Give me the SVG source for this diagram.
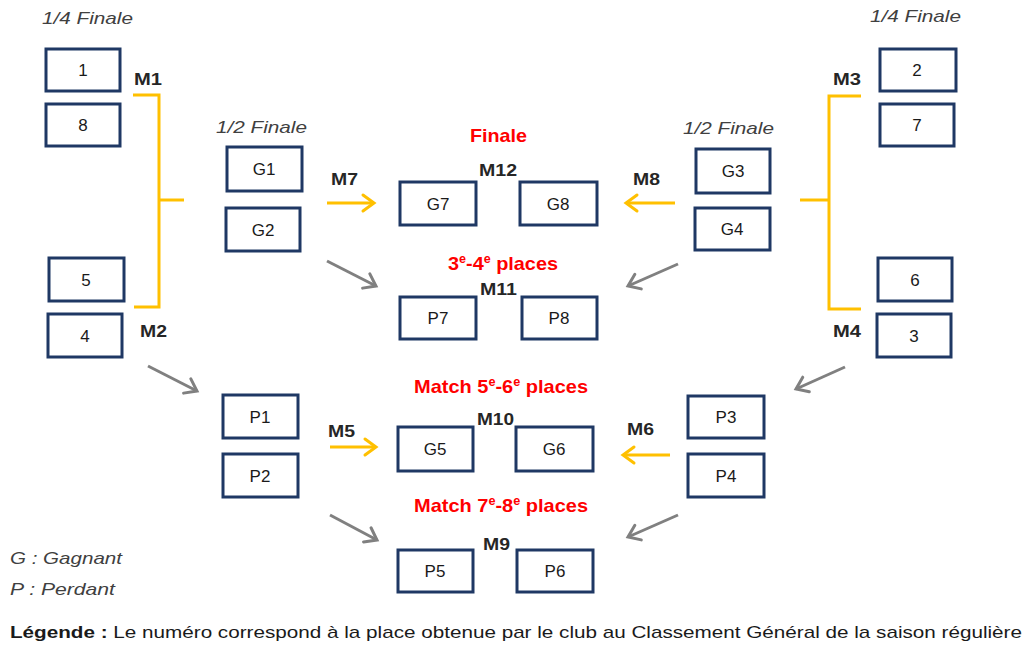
<svg xmlns="http://www.w3.org/2000/svg" width="1026" height="645" viewBox="0 0 1026 645">
<defs>
<style>
.box{fill:#fff;stroke:#1f3864;stroke-width:3}
.bt{font-family:"Liberation Sans",Arial,sans-serif;font-size:17px;fill:#1a1a1a;text-anchor:middle}
.m{font-family:"Liberation Sans",Arial,sans-serif;font-size:16px;font-weight:bold;fill:#262626}
.it{font-family:"Liberation Sans",Arial,sans-serif;font-size:17px;font-style:italic;fill:#404040}
.red{font-family:"Liberation Sans",Arial,sans-serif;font-size:19px;font-weight:bold;fill:#ff0000}
.leg{font-family:"Liberation Sans",Arial,sans-serif;font-size:17px;fill:#1a1a1a}
.y{stroke:#ffc000;stroke-width:3;fill:none}
.g{stroke:#808080;stroke-width:3;fill:none}
</style>
<marker id="ay" markerUnits="userSpaceOnUse" markerWidth="30" markerHeight="30" viewBox="-15 -15 30 30" refX="0" refY="0" orient="auto" overflow="visible">
<path d="M-11,-8 L0,0 L-11,8" fill="none" stroke="#ffc000" stroke-width="3" stroke-linecap="round" stroke-linejoin="miter"/>
</marker>
<marker id="ag" markerUnits="userSpaceOnUse" markerWidth="30" markerHeight="30" viewBox="-15 -15 30 30" refX="0" refY="0" orient="auto" overflow="visible">
<path d="M-11,-8 L0,0 L-11,8" fill="none" stroke="#808080" stroke-width="3" stroke-linecap="round" stroke-linejoin="miter"/>
</marker>
</defs>
<rect width="1026" height="645" fill="#fff"/>

<g id="titles">
<text class="it" x="42" y="24" textLength="91" lengthAdjust="spacingAndGlyphs">1/4 Finale</text>
<text class="it" x="870" y="22" textLength="91" lengthAdjust="spacingAndGlyphs">1/4 Finale</text>
<text class="it" x="216" y="133" textLength="91" lengthAdjust="spacingAndGlyphs">1/2 Finale</text>
<text class="it" x="683" y="134" textLength="91" lengthAdjust="spacingAndGlyphs">1/2 Finale</text>
<text class="red" x="470" y="142" textLength="57" lengthAdjust="spacingAndGlyphs">Finale</text>
<text class="red" x="448" y="270" textLength="110" lengthAdjust="spacingAndGlyphs">3<tspan font-size="12" dy="-7">e</tspan><tspan dy="7">-4</tspan><tspan font-size="12" dy="-7">e</tspan><tspan dy="7"> places</tspan></text>
<text class="red" x="414" y="393" textLength="174" lengthAdjust="spacingAndGlyphs">Match 5<tspan font-size="12" dy="-7">e</tspan><tspan dy="7">-6</tspan><tspan font-size="12" dy="-7">e</tspan><tspan dy="7"> places</tspan></text>
<text class="red" x="414" y="512" textLength="174" lengthAdjust="spacingAndGlyphs">Match 7<tspan font-size="12" dy="-7">e</tspan><tspan dy="7">-8</tspan><tspan font-size="12" dy="-7">e</tspan><tspan dy="7"> places</tspan></text>
</g>

<g id="match-labels">
<text class="m" x="134" y="85" textLength="28" lengthAdjust="spacingAndGlyphs">M1</text>
<text class="m" x="140" y="337" textLength="27" lengthAdjust="spacingAndGlyphs">M2</text>
<text class="m" x="833" y="85" textLength="28" lengthAdjust="spacingAndGlyphs">M3</text>
<text class="m" x="833" y="337" textLength="28" lengthAdjust="spacingAndGlyphs">M4</text>
<text class="m" x="328" y="437" textLength="27" lengthAdjust="spacingAndGlyphs">M5</text>
<text class="m" x="627" y="435" textLength="27" lengthAdjust="spacingAndGlyphs">M6</text>
<text class="m" x="331" y="185" textLength="27" lengthAdjust="spacingAndGlyphs">M7</text>
<text class="m" x="633" y="185" textLength="27" lengthAdjust="spacingAndGlyphs">M8</text>
<text class="m" x="483" y="550" textLength="27" lengthAdjust="spacingAndGlyphs">M9</text>
<text class="m" x="477" y="425" textLength="37" lengthAdjust="spacingAndGlyphs">M10</text>
<text class="m" x="480" y="295" textLength="37" lengthAdjust="spacingAndGlyphs">M11</text>
<text class="m" x="479" y="176" textLength="38" lengthAdjust="spacingAndGlyphs">M12</text>
</g>

<g id="connectors">
<polyline class="y" points="133,95 159,95 159,307 134,307"/>
<line class="y" x1="159" y1="200" x2="184" y2="200"/>
<polyline class="y" points="861,96 829,96 829,309 861,309"/>
<line class="y" x1="800" y1="200" x2="829" y2="200"/>
<line class="y" x1="327" y1="203" x2="374" y2="203" marker-end="url(#ay)"/>
<line class="y" x1="675" y1="203" x2="626" y2="203" marker-end="url(#ay)"/>
<line class="y" x1="330" y1="447" x2="376" y2="447" marker-end="url(#ay)"/>
<line class="y" x1="670" y1="455" x2="623" y2="455" marker-end="url(#ay)"/>
<line class="g" x1="327" y1="261" x2="376" y2="286" marker-end="url(#ag)"/>
<line class="g" x1="678" y1="264" x2="628" y2="286" marker-end="url(#ag)"/>
<line class="g" x1="148" y1="366" x2="197" y2="391" marker-end="url(#ag)"/>
<line class="g" x1="845" y1="367" x2="796" y2="389" marker-end="url(#ag)"/>
<line class="g" x1="330" y1="515" x2="377" y2="540" marker-end="url(#ag)"/>
<line class="g" x1="678" y1="515" x2="628" y2="537" marker-end="url(#ag)"/>
</g>

<g id="n1"><rect class="box" x="46" y="49" width="74" height="42"/><text class="bt" x="83" y="76">1</text></g>
<g id="n8"><rect class="box" x="46" y="104" width="74" height="42"/><text class="bt" x="83" y="131">8</text></g>
<g id="n5"><rect class="box" x="49" y="258" width="75" height="43"/><text class="bt" x="86" y="286">5</text></g>
<g id="n4"><rect class="box" x="48" y="314" width="74" height="43"/><text class="bt" x="85" y="342">4</text></g>
<g id="n2"><rect class="box" x="880" y="49" width="76" height="42"/><text class="bt" x="917" y="76">2</text></g>
<g id="n7"><rect class="box" x="880" y="104" width="74" height="42"/><text class="bt" x="917" y="131">7</text></g>
<g id="n6"><rect class="box" x="878" y="258" width="74" height="43"/><text class="bt" x="915" y="286">6</text></g>
<g id="n3"><rect class="box" x="877" y="314" width="74" height="43"/><text class="bt" x="914" y="342">3</text></g>
<g id="nG1"><rect class="box" x="227" y="147" width="75" height="44"/><text class="bt" x="264" y="175">G1</text></g>
<g id="nG2"><rect class="box" x="226" y="208" width="74" height="43"/><text class="bt" x="263" y="236">G2</text></g>
<g id="nG3"><rect class="box" x="696" y="149" width="74" height="44"/><text class="bt" x="733" y="177">G3</text></g>
<g id="nG4"><rect class="box" x="695" y="208" width="75" height="42"/><text class="bt" x="732" y="235">G4</text></g>
<g id="nG7"><rect class="box" x="400" y="182" width="76" height="43"/><text class="bt" x="438" y="210">G7</text></g>
<g id="nG8"><rect class="box" x="520" y="182" width="77" height="43"/><text class="bt" x="558" y="210">G8</text></g>
<g id="nP7"><rect class="box" x="400" y="297" width="76" height="42"/><text class="bt" x="438" y="324">P7</text></g>
<g id="nP8"><rect class="box" x="522" y="297" width="75" height="42"/><text class="bt" x="559" y="324">P8</text></g>
<g id="nP1"><rect class="box" x="223" y="395" width="75" height="43"/><text class="bt" x="260" y="423">P1</text></g>
<g id="nP2"><rect class="box" x="223" y="454" width="75" height="43"/><text class="bt" x="260" y="482">P2</text></g>
<g id="nG5"><rect class="box" x="398" y="427" width="75" height="44"/><text class="bt" x="435" y="455">G5</text></g>
<g id="nG6"><rect class="box" x="516" y="427" width="77" height="44"/><text class="bt" x="554" y="455">G6</text></g>
<g id="nP3"><rect class="box" x="688" y="396" width="76" height="42"/><text class="bt" x="726" y="423">P3</text></g>
<g id="nP4"><rect class="box" x="688" y="454" width="76" height="43"/><text class="bt" x="726" y="482">P4</text></g>
<g id="nP5"><rect class="box" x="398" y="550" width="75" height="42"/><text class="bt" x="435" y="577">P5</text></g>
<g id="nP6"><rect class="box" x="517" y="550" width="76" height="42"/><text class="bt" x="555" y="577">P6</text></g>

<g id="legend">
<text class="it" x="10" y="564" textLength="112" lengthAdjust="spacingAndGlyphs">G : Gagnant</text>
<text class="it" x="10" y="595" textLength="105" lengthAdjust="spacingAndGlyphs">P : Perdant</text>
<text class="leg" x="10" y="638" textLength="1012" lengthAdjust="spacingAndGlyphs"><tspan font-weight="bold">Légende :</tspan> Le numéro correspond à la place obtenue par le club au Classement Général de la saison régulière</text>
</g>
</svg>
